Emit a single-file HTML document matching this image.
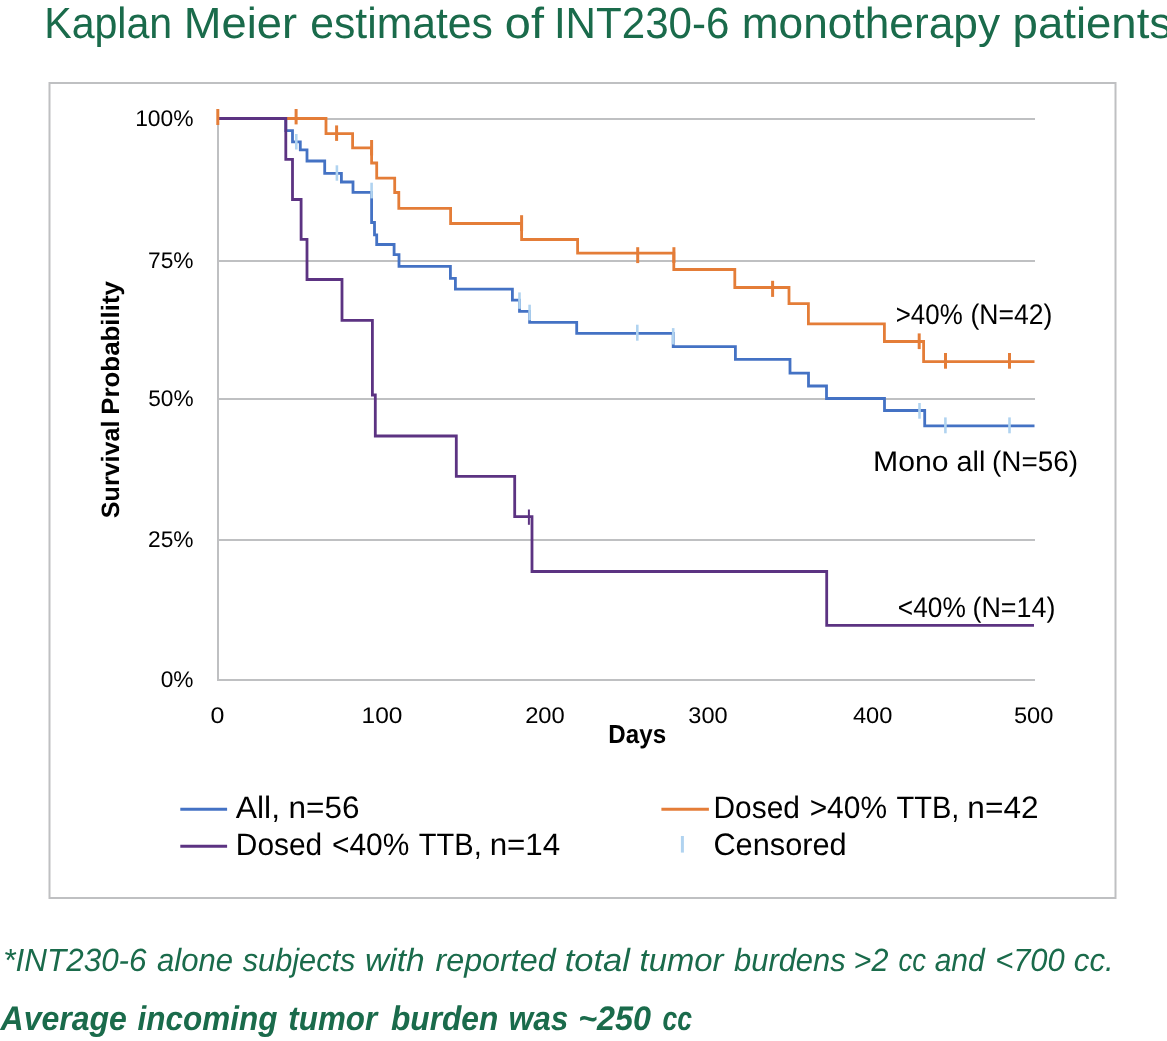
<!DOCTYPE html>
<html lang="en"><head><meta charset="utf-8"><title>Kaplan Meier estimates of INT230-6 monotherapy patients</title>
<style>
html,body{margin:0;padding:0;background:#fff;}
body{width:1167px;height:1041px;overflow:hidden;position:relative;font-family:"Liberation Sans",sans-serif;}
svg{position:absolute;left:0;top:0;display:block;}
text{font-family:"Liberation Sans",sans-serif;white-space:pre;text-rendering:geometricPrecision;}
.t{fill:#1A6B4B;}
.k{fill:#000;}
</style></head><body>
<svg width="1167" height="1041" viewBox="0 0 1167 1041">
<rect x="0" y="0" width="1167" height="1041" fill="#fff"/>
<rect x="49.5" y="83" width="1066" height="815" fill="none" stroke="#BFC0C2" stroke-width="2"/>

<rect x="217" y="118" width="818" height="2" fill="#BFC0C2"/>
<rect x="217" y="260" width="818" height="2" fill="#BFC0C2"/>
<rect x="217" y="398" width="818" height="2" fill="#BFC0C2"/>
<rect x="217" y="539" width="818" height="2" fill="#BFC0C2"/>
<rect x="217" y="679" width="818" height="2" fill="#BFC0C2"/>
<rect x="217" y="118" width="2" height="563" fill="#BFC0C2"/>
<g fill="none" stroke-width="2.8" stroke-linejoin="miter" stroke-linecap="butt">
<path d="M218,118.5 H285.8 V130.6 H292.5 V141.8 H300.3 V149.9 H307 V161 H324.7 V173.3 H341.4 V182 H353 V192.3 H371.6 V222.5 H374.5 V234.8 H376.7 V244.5 H394.1 V254.6 H399 V266.3 H450.4 V278.4 H455.4 V289.2 H512.4 V300.2 H519.5 V311.4 H529.6 V322.3 H576.7 V333.3 H673.2 V346.6 H735.4 V359.4 H790 V373.2 H808.5 V386 H826.5 V398.5 H884.5 V410.5 H924.7 V425.8 H1034.5" stroke="#4472C4"/>
<path d="M218,118.5 H326 V133.7 H352.6 V147.8 H371.6 V163 H376.7 V178.2 H394.7 V192.5 H398.8 V208.3 H450.6 V223.5 H521.6 V239.5 H577.6 V253.1 H673.8 V269.5 H734.8 V287.5 H789 V303.7 H808.4 V323.9 H884.4 V341.5 H923.6 V361.7 H1034.5" stroke="#E47D38"/>
<path d="M218,118.5 H285.8 V159.4 H292.5 V199.5 H301.1 V239.4 H307 V279.5 H342 V320.4 H372.4 V395 H375.3 V436 H456.3 V476.3 H514.7 V516.6 H532 V571.5 H826.7 V625.3 H1034" stroke="#5C3382"/>
</g>
<line x1="217.8" y1="109" x2="217.8" y2="125" stroke="#E47D38" stroke-width="3"/>
<line x1="296.1" y1="109" x2="296.1" y2="124.4" stroke="#E47D38" stroke-width="3"/>
<line x1="336.6" y1="125.4" x2="336.6" y2="140.9" stroke="#E47D38" stroke-width="3"/>
<line x1="371.6" y1="140" x2="371.6" y2="155.5" stroke="#E47D38" stroke-width="3"/>
<line x1="521.6" y1="215.2" x2="521.6" y2="231" stroke="#E47D38" stroke-width="3"/>
<line x1="637.7" y1="247.2" x2="637.7" y2="263.1" stroke="#E47D38" stroke-width="3"/>
<line x1="673.9" y1="247.2" x2="673.9" y2="263" stroke="#E47D38" stroke-width="3"/>
<line x1="772.6" y1="280.8" x2="772.6" y2="296.9" stroke="#E47D38" stroke-width="3"/>
<line x1="919.2" y1="333.4" x2="919.2" y2="349.1" stroke="#E47D38" stroke-width="3"/>
<line x1="945.5" y1="353" x2="945.5" y2="368.7" stroke="#E47D38" stroke-width="3"/>
<line x1="1009.5" y1="353" x2="1009.5" y2="368.7" stroke="#E47D38" stroke-width="3"/>
<line x1="296.3" y1="134" x2="296.3" y2="149.5" stroke="#B0D3F0" stroke-width="2.6"/>
<line x1="336.9" y1="165.3" x2="336.9" y2="180.7" stroke="#B0D3F0" stroke-width="2.6"/>
<line x1="371.6" y1="182.7" x2="371.6" y2="198.4" stroke="#B0D3F0" stroke-width="2.6"/>
<line x1="519.5" y1="292.4" x2="519.5" y2="308.8" stroke="#B0D3F0" stroke-width="2.6"/>
<line x1="529.6" y1="304.7" x2="529.6" y2="320.4" stroke="#B0D3F0" stroke-width="2.6"/>
<line x1="637.3" y1="324.7" x2="637.3" y2="340.7" stroke="#B0D3F0" stroke-width="2.6"/>
<line x1="673.2" y1="328.1" x2="673.2" y2="344.5" stroke="#B0D3F0" stroke-width="2.6"/>
<line x1="919.5" y1="403" x2="919.5" y2="418.7" stroke="#B0D3F0" stroke-width="2.6"/>
<line x1="945.4" y1="417.4" x2="945.4" y2="433.3" stroke="#B0D3F0" stroke-width="2.6"/>
<line x1="1009.5" y1="417.4" x2="1009.5" y2="433.3" stroke="#B0D3F0" stroke-width="2.6"/>
<line x1="528.9" y1="509.5" x2="528.9" y2="524.8" stroke="#5C3382" stroke-width="2"/>
<line x1="180.3" y1="809.2" x2="227.1" y2="809.2" stroke="#4472C4" stroke-width="3"/>
<line x1="180.3" y1="846.2" x2="227.1" y2="846.2" stroke="#5C3382" stroke-width="3"/>
<line x1="661.4" y1="809.2" x2="708.9" y2="809.2" stroke="#E47D38" stroke-width="3"/>
<line x1="682.4" y1="836" x2="682.4" y2="852.6" stroke="#B0D3F0" stroke-width="3"/>
<text class="t" y="37.9" font-size="43.6"><tspan x="44.21" textLength="128.03" lengthAdjust="spacingAndGlyphs">Kaplan</tspan> <tspan x="183.78" textLength="113.21" lengthAdjust="spacingAndGlyphs">Meier</tspan> <tspan x="310.29" textLength="182.54" lengthAdjust="spacingAndGlyphs">estimates</tspan> <tspan x="504.83" textLength="39.07" lengthAdjust="spacingAndGlyphs">of</tspan> <tspan x="553.93" textLength="175.57" lengthAdjust="spacingAndGlyphs">INT230-6</tspan> <tspan x="741.77" textLength="258.23" lengthAdjust="spacingAndGlyphs">monotherapy</tspan> <tspan x="1012.58" textLength="159.56" lengthAdjust="spacingAndGlyphs">patients</tspan></text>
<text class="k" y="323.8" font-size="28.3"><tspan x="895.76" textLength="66.90" lengthAdjust="spacingAndGlyphs">&gt;40%</tspan> <tspan x="970.51" textLength="81.91" lengthAdjust="spacingAndGlyphs">(N=42)</tspan></text>
<text class="k" y="470.9" font-size="28.3"><tspan x="872.98" textLength="75.63" lengthAdjust="spacingAndGlyphs">Mono</tspan> <tspan x="956.55" textLength="28.75" lengthAdjust="spacingAndGlyphs">all</tspan> <tspan x="992.03" textLength="85.97" lengthAdjust="spacingAndGlyphs">(N=56)</tspan></text>
<text class="k" y="617.1" font-size="28.3"><tspan x="897.84" textLength="67.93" lengthAdjust="spacingAndGlyphs">&lt;40%</tspan> <tspan x="972.49" textLength="82.85" lengthAdjust="spacingAndGlyphs">(N=14)</tspan></text>
<text class="k" y="817.7" font-size="31.0"><tspan x="235.80" textLength="44.26" lengthAdjust="spacingAndGlyphs">All,</tspan> <tspan x="288.59" textLength="70.88" lengthAdjust="spacingAndGlyphs">n=56</tspan></text>
<text class="k" y="855.3" font-size="31.0"><tspan x="235.81" textLength="86.41" lengthAdjust="spacingAndGlyphs">Dosed</tspan> <tspan x="331.96" textLength="77.33" lengthAdjust="spacingAndGlyphs">&lt;40%</tspan> <tspan x="418.82" textLength="62.89" lengthAdjust="spacingAndGlyphs">TTB,</tspan> <tspan x="489.70" textLength="70.48" lengthAdjust="spacingAndGlyphs">n=14</tspan></text>
<text class="k" y="817.9" font-size="31.0"><tspan x="713.51" textLength="86.41" lengthAdjust="spacingAndGlyphs">Dosed</tspan> <tspan x="809.66" textLength="77.33" lengthAdjust="spacingAndGlyphs">&gt;40%</tspan> <tspan x="896.52" textLength="62.89" lengthAdjust="spacingAndGlyphs">TTB,</tspan> <tspan x="967.38" textLength="71.14" lengthAdjust="spacingAndGlyphs">n=42</tspan></text>
<text class="k" y="855.3" font-size="31.0"><tspan x="713.42" textLength="133.25" lengthAdjust="spacingAndGlyphs">Censored</tspan></text>
<text class="t" y="971.4" font-size="32.1" font-style="italic"><tspan x="3.34" textLength="143.24" lengthAdjust="spacingAndGlyphs">*INT230-6</tspan> <tspan x="157.08" textLength="76.05" lengthAdjust="spacingAndGlyphs">alone</tspan> <tspan x="242.70" textLength="112.71" lengthAdjust="spacingAndGlyphs">subjects</tspan> <tspan x="365.09" textLength="59.69" lengthAdjust="spacingAndGlyphs">with</tspan> <tspan x="435.48" textLength="120.22" lengthAdjust="spacingAndGlyphs">reported</tspan> <tspan x="564.68" textLength="65.13" lengthAdjust="spacingAndGlyphs">total</tspan> <tspan x="639.56" textLength="83.90" lengthAdjust="spacingAndGlyphs">tumor</tspan> <tspan x="734.03" textLength="111.69" lengthAdjust="spacingAndGlyphs">burdens</tspan> <tspan x="853.57" textLength="34.80" lengthAdjust="spacingAndGlyphs">&gt;2</tspan> <tspan x="898.42" textLength="27.50" lengthAdjust="spacingAndGlyphs">cc</tspan> <tspan x="934.70" textLength="50.06" lengthAdjust="spacingAndGlyphs">and</tspan> <tspan x="995.15" textLength="69.61" lengthAdjust="spacingAndGlyphs">&lt;700</tspan> <tspan x="1073.80" textLength="40.02" lengthAdjust="spacingAndGlyphs">cc.</tspan></text>
<text class="t" y="1030.2" font-size="34.0" font-style="italic" font-weight="bold"><tspan x="0.57" textLength="126.30" lengthAdjust="spacingAndGlyphs">Average</tspan> <tspan x="137.60" textLength="139.87" lengthAdjust="spacingAndGlyphs">incoming</tspan> <tspan x="288.35" textLength="88.89" lengthAdjust="spacingAndGlyphs">tumor</tspan> <tspan x="390.99" textLength="107.34" lengthAdjust="spacingAndGlyphs">burden</tspan> <tspan x="508.58" textLength="59.84" lengthAdjust="spacingAndGlyphs">was</tspan> <tspan x="578.19" textLength="72.77" lengthAdjust="spacingAndGlyphs">~250</tspan> <tspan x="662.56" textLength="29.57" lengthAdjust="spacingAndGlyphs">cc</tspan></text>
<text class="k" y="743.1" font-size="26.2" font-weight="bold"><tspan x="608.35" textLength="57.71" lengthAdjust="spacingAndGlyphs">Days</tspan></text>
<text class="k" y="125.8" font-size="22.6"><tspan x="135.16" textLength="58.39" lengthAdjust="spacingAndGlyphs">100%</tspan></text>
<text class="k" y="267.8" font-size="22.6"><tspan x="148.01" textLength="45.55" lengthAdjust="spacingAndGlyphs">75%</tspan></text>
<text class="k" y="405.8" font-size="22.6"><tspan x="148.19" textLength="45.36" lengthAdjust="spacingAndGlyphs">50%</tspan></text>
<text class="k" y="546.8" font-size="22.6"><tspan x="148.01" textLength="45.55" lengthAdjust="spacingAndGlyphs">25%</tspan></text>
<text class="k" y="686.8" font-size="22.6"><tspan x="160.78" textLength="32.77" lengthAdjust="spacingAndGlyphs">0%</tspan></text>
<text class="k" y="722.6" font-size="22.6"><tspan x="210.40" textLength="13.90" lengthAdjust="spacingAndGlyphs">0</tspan></text>
<text class="k" y="722.6" font-size="22.6"><tspan x="361.64" textLength="40.85" lengthAdjust="spacingAndGlyphs">100</tspan></text>
<text class="k" y="722.6" font-size="22.6"><tspan x="525.16" textLength="39.60" lengthAdjust="spacingAndGlyphs">200</tspan></text>
<text class="k" y="722.6" font-size="22.6"><tspan x="688.35" textLength="39.30" lengthAdjust="spacingAndGlyphs">300</tspan></text>
<text class="k" y="722.6" font-size="22.6"><tspan x="852.93" textLength="39.43" lengthAdjust="spacingAndGlyphs">400</tspan></text>
<text class="k" y="722.6" font-size="22.6"><tspan x="1013.95" textLength="39.50" lengthAdjust="spacingAndGlyphs">500</tspan></text>
<text class="k" y="0" font-size="25.1" font-weight="bold" transform="translate(119,517.5) rotate(-90)"><tspan x="-0.70" textLength="97.66" lengthAdjust="spacingAndGlyphs">Survival</tspan> <tspan x="102.74" textLength="133.66" lengthAdjust="spacingAndGlyphs">Probability</tspan></text>
</svg></body></html>
